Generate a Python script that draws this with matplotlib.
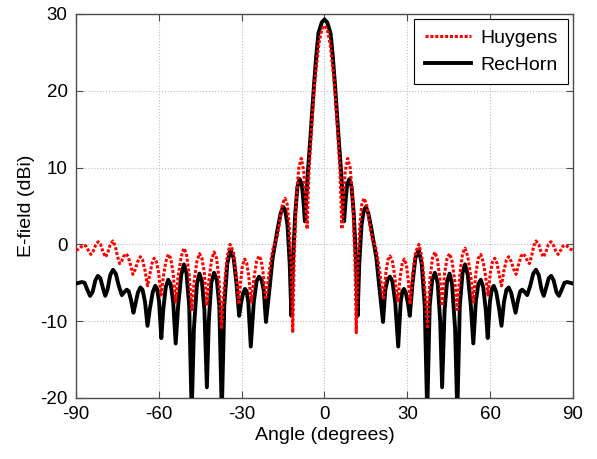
import matplotlib
matplotlib.use('Agg')
import matplotlib.pyplot as plt

# RecHorn (black, solid) pattern
angle_rec = [-90.0, -89.0, -87.9, -86.9, -85.9, -84.9, -84.0, -83.0, -82.1, -81.2,
             -80.3, -79.4, -78.6, -77.6, -76.6, -75.6, -74.5, -73.4, -72.5, -71.6,
             -70.9, -70.1, -69.2, -68.5, -67.6, -66.7, -65.9, -65.0, -64.1, -63.3,
             -62.2, -61.3, -60.6, -59.9, -59.1, -58.4, -57.5, -56.6, -55.7, -54.8,
             -53.9, -53.0, -51.9, -50.9, -50.0, -49.0, -48.1, -47.3, -46.2, -45.3,
             -44.4, -43.5, -42.6, -41.9, -41.0, -40.0, -39.0, -38.1, -37.2, -36.3,
             -35.2, -34.1, -32.9, -31.9, -30.9, -30.2, -29.5, -28.8, -28.2, -27.6,
             -26.7, -25.6, -24.6, -23.7, -22.8, -22.0, -21.2, -19.7, -18.8, -18.0,
             -16.9, -15.9, -15.0, -14.2, -13.4, -12.6, -12.0, -11.4, -10.6, -9.8,
             -9.0, -8.2, -7.6, -7.1, -6.7, -6.0, -5.0, -3.9, -3.0, -2.2, -1.0,
             0.0, 1.0, 2.2, 3.0, 3.9, 5.0, 6.0, 6.7, 7.1, 7.6,
             8.2, 9.0, 9.8, 10.6, 11.4, 12.0, 12.6, 13.4, 14.2, 15.0,
             15.9, 16.9, 18.0, 18.8, 19.7, 21.2, 22.0, 22.8, 23.7, 24.6,
             25.6, 26.7, 27.6, 28.2, 28.8, 29.5, 30.2, 30.9, 31.9, 32.9,
             34.1, 35.2, 36.3, 37.2, 38.1, 39.0, 40.0, 41.0, 41.9, 42.6,
             43.5, 44.4, 45.3, 46.2, 47.3, 48.1, 49.0, 50.0, 50.9, 51.9,
             53.0, 53.9, 54.8, 55.7, 56.6, 57.5, 58.4, 59.1, 59.9, 60.6,
             61.3, 62.2, 63.3, 64.1, 65.0, 65.9, 66.7, 67.6, 68.5, 69.2,
             70.1, 70.9, 71.6, 72.5, 73.4, 74.5, 75.6, 76.6, 77.6, 78.6,
             79.4, 80.3, 81.2, 82.1, 83.0, 84.0, 84.9, 85.9, 86.9, 87.9,
             89.0, 90.0]
rec_db = [-5.1, -5.0, -4.9, -5.0, -5.9, -6.7, -6.2, -4.7, -4.1, -4.4,
          -5.6, -6.7, -5.9, -4.0, -3.3, -3.8, -5.4, -6.6, -6.2, -5.9,
          -6.1, -7.2, -8.9, -7.8, -6.3, -5.6, -5.9, -7.5, -10.6, -8.5,
          -6.2, -5.4, -5.8, -7.5, -12.2, -8.5, -5.6, -4.6, -5.2, -7.5,
          -12.9, -8.0, -4.0, -2.6, -3.7, -8.0, -22.0, -11.0, -5.2, -3.8,
          -4.8, -8.5, -18.6, -10.0, -5.0, -3.7, -4.6, -8.0, -22.0, -8.0,
          -2.5, -0.65, -1.8, -5.0, -9.3, -7.6, -6.4, -5.8, -6.1, -7.5,
          -13.3, -7.5, -4.8, -4.2, -4.6, -6.0, -10.1, -5.0, -1.8, -0.1,
          2.2, 4.0, 4.9, 4.4, 2.5, -2.5, -9.3, -2.0, 4.0, 7.5,
          8.5, 7.8, 5.5, 3.0, 5.5, 9.5, 14.5, 20.3, 24.5, 27.5, 28.9,
          29.3, 28.9, 27.5, 24.5, 20.3, 14.5, 9.5, 5.5, 3.0, 5.5,
          7.8, 8.5, 7.5, 4.0, -2.0, -9.3, -2.5, 2.5, 4.4, 4.9,
          4.0, 2.2, -0.1, -1.8, -5.0, -10.1, -6.0, -4.6, -4.2, -4.8,
          -7.5, -13.3, -7.5, -6.1, -5.8, -6.4, -7.6, -9.3, -5.0, -1.8,
          -0.65, -2.5, -8.0, -22.0, -8.0, -4.6, -3.7, -5.0, -10.0, -18.6,
          -8.5, -4.8, -3.8, -5.2, -11.0, -22.0, -8.0, -3.7, -2.6, -4.0,
          -8.0, -12.9, -7.5, -5.2, -4.6, -5.6, -8.5, -12.2, -7.5, -5.8,
          -5.4, -6.2, -8.5, -10.6, -7.5, -5.9, -5.6, -6.3, -7.8, -8.9,
          -7.2, -6.1, -5.9, -6.2, -6.6, -5.4, -3.8, -3.3, -4.0, -5.9,
          -6.7, -5.6, -4.4, -4.1, -4.7, -6.2, -6.7, -5.9, -5.0, -4.9,
          -5.0, -5.1]

# Huygens (red, dotted) pattern
angle_huy = [-90.0, -89.0, -88.1, -87.2, -86.4, -85.5, -84.6, -83.8, -82.9, -82.0,
             -81.1, -80.2, -79.3, -78.5, -77.6, -76.6, -75.8, -75.0, -74.2, -73.5,
             -72.8, -71.9, -71.1, -70.3, -69.4, -68.5, -67.6, -66.7, -65.9, -65.0,
             -64.1, -63.3, -62.5, -61.7, -60.9, -60.1, -59.2, -58.4, -57.5, -56.6,
             -55.7, -54.8, -53.9, -53.0, -51.9, -50.9, -50.0, -49.0, -48.1, -47.2,
             -46.2, -45.3, -44.4, -43.5, -42.6, -41.8, -40.9, -40.0, -39.1, -38.2,
             -37.3, -36.3, -35.2, -34.2, -33.0, -31.9, -31.0, -30.4, -29.7, -28.9,
             -28.2, -27.5, -26.5, -25.5, -24.6, -23.7, -23.0, -22.3, -21.3, -19.8,
             -18.8, -18.0, -17.2, -16.2, -15.2, -14.3, -13.5, -12.8, -12.1, -11.5,
             -11.0, -10.2, -9.3, -8.4, -7.5, -6.8, -6.3, -6.0, -5.6, -4.8,
             -3.7, -3.0, -2.0, -1.0,
             0.0, 1.0, 2.0, 3.0, 3.7, 4.8, 5.6, 6.0, 6.3, 6.8,
             7.5, 8.4, 9.3, 10.2, 11.0, 11.5, 12.1, 12.8, 13.5, 14.3,
             15.2, 16.2, 17.2, 18.0, 18.8, 19.8, 21.3, 22.3, 23.0, 23.7,
             24.6, 25.5, 26.5, 27.5, 28.2, 28.9, 29.7, 30.4, 31.0, 31.9,
             33.0, 34.2, 35.2, 36.3, 37.3, 38.2, 39.1, 40.0, 40.9, 41.8,
             42.6, 43.5, 44.4, 45.3, 46.2, 47.2, 48.1, 49.0, 50.0, 50.9,
             51.9, 53.0, 53.9, 54.8, 55.7, 56.6, 57.5, 58.4, 59.2, 60.1,
             60.9, 61.7, 62.5, 63.3, 64.1, 65.0, 65.9, 66.7, 67.6, 68.5,
             69.4, 70.3, 71.1, 71.9, 72.8, 73.5, 74.2, 75.0, 75.8, 76.6,
             77.6, 78.5, 79.3, 80.2, 81.1, 82.0, 82.9, 83.8, 84.6, 85.5,
             86.4, 87.2, 88.1, 89.0, 90.0]
huy_db = [-0.75, -0.6, -0.3, -0.1, -0.2, -0.8, -1.3, -0.9, -0.1, 0.35,
          0.0, -1.0, -1.65, -1.1, 0.0, 0.45, -0.2, -1.5, -2.5, -2.2,
          -1.6, -1.2, -1.6, -2.6, -3.9, -3.2, -2.2, -1.6, -2.0, -3.4,
          -5.4, -4.0, -2.5, -1.8, -2.2, -3.6, -6.6, -4.3, -2.3, -1.3,
          -1.8, -3.8, -7.5, -4.2, -1.6, -0.5, -1.2, -4.0, -8.5, -4.8,
          -2.2, -1.2, -1.8, -3.8, -8.0, -4.5, -2.0, -1.0, -1.8, -4.5,
          -11.0, -5.5, -1.5, 0.0, -1.0, -4.0, -7.8, -5.0, -2.7, -1.9,
          -2.4, -4.0, -7.5, -4.3, -2.2, -1.5, -2.0, -3.5, -7.2, -3.0,
          -0.8, 0.2, 0.8, 3.0, 5.3, 6.0, 5.2, 2.5, -2.5, -11.5,
          -2.0, 6.0, 10.0, 11.2, 9.5, 5.5, 2.0, 5.5, 9.5, 14.5,
          20.3, 23.0, 26.2, 28.0,
          28.5, 28.0, 26.2, 23.0, 20.3, 14.5, 9.5, 5.5, 2.0, 5.5,
          9.5, 11.2, 10.0, 6.0, -2.0, -11.5, -2.5, 2.5, 5.2, 6.0,
          5.3, 3.0, 0.8, 0.2, -0.8, -3.0, -7.2, -3.5, -2.0, -1.5,
          -2.2, -4.3, -7.5, -4.0, -2.4, -1.9, -2.7, -5.0, -7.8, -4.0,
          -1.0, 0.0, -1.5, -5.5, -11.0, -4.5, -1.8, -1.0, -2.0, -4.5,
          -8.0, -3.8, -1.8, -1.2, -2.2, -4.8, -8.5, -4.0, -1.2, -0.5,
          -1.6, -4.2, -7.5, -3.8, -1.8, -1.3, -2.3, -4.3, -6.6, -3.6,
          -2.2, -1.8, -2.5, -4.0, -5.4, -3.4, -2.0, -1.6, -2.2, -3.2,
          -3.9, -2.6, -1.6, -1.2, -1.6, -2.2, -2.5, -1.5, -0.2, 0.45,
          0.0, -1.1, -1.65, -1.0, 0.0, 0.35, -0.1, -0.9, -1.3, -0.8,
          -0.2, -0.1, -0.3, -0.6, -0.75]

x_ticks = [-90, -60, -30, 0, 30, 60, 90]
y_ticks = [-20, -10, 0, 10, 20, 30]

plt.rcParams['font.family'] = ['Liberation Sans', 'DejaVu Sans']
plt.rcParams['axes.unicode_minus'] = False

fig = plt.figure(figsize=(5.97, 4.59), dpi=100)
ax = fig.add_axes([0.1273, 0.1329, 0.8325, 0.8366])

rec_line, = ax.plot(angle_rec, rec_db, color='black', linewidth=2.8,
                    solid_joinstyle='round', label='RecHorn', zorder=3)
huy_line, = ax.plot(angle_huy, huy_db, color='red', linewidth=2.2,
                    linestyle=(0, (1, 0.6)), dash_capstyle='butt',
                    label='Huygens', zorder=4)

ax.set_xlim(-90, 90)
ax.set_ylim(-20, 30)
ax.set_xticks(x_ticks)
ax.set_yticks(y_ticks)
ax.tick_params(direction='in', top=True, right=True, length=5,
               labelsize=13.5, color='0.3', pad=6)
for sp in ax.spines.values():
    sp.set_color('0.3')
    sp.set_linewidth(1.0)
ax.grid(True, linestyle=':', linewidth=0.8, color='0.75')
ax.set_axisbelow(True)

ax.set_xlabel('Angle (degrees)', fontsize=14, labelpad=3)
ax.set_ylabel('E-field (dBi)', fontsize=14, labelpad=4)

leg = ax.legend(handles=[huy_line, rec_line], loc='upper right', fontsize=14,
                fancybox=False, framealpha=1, edgecolor='black',
                borderaxespad=0.25, handlelength=2.4, handletextpad=0.45,
                labelspacing=0.45, borderpad=0.55)
leg.get_frame().set_linewidth(0.8)

fig.savefig('out.png', dpi=100)
